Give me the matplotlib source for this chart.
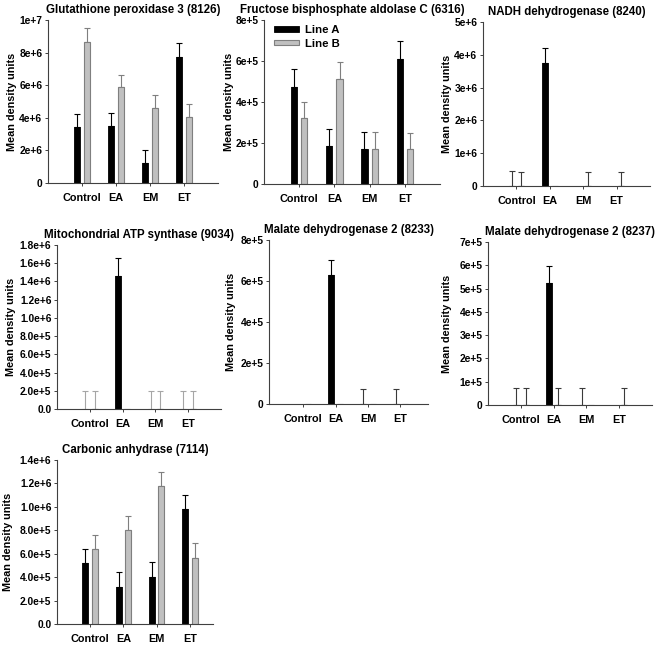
import numpy as np
import matplotlib
matplotlib.use("Agg")
import matplotlib.pyplot as plt
from matplotlib.patches import Patch

plt.rcParams['font.family'] = ['Liberation Sans', 'DejaVu Sans']
plt.rcParams['font.weight'] = 'bold'

nan = np.nan
groups = ['Control', 'EA', 'EM', 'ET']

# Glutathione peroxidase 3 (8126)
gpx_a = [3.41e6, 3.47e6, 1.22e6, 7.76e6]
gpx_a_err = [0.81e6, 0.82e6, 0.80e6, 0.81e6]
gpx_b = [8.63e6, 5.86e6, 4.59e6, 4.04e6]
gpx_b_err = [0.86e6, 0.79e6, 0.78e6, 0.80e6]

# Fructose bisphosphate aldolase C (6316)
fba_a = [4.75e5, 1.87e5, 1.71e5, 6.11e5]
fba_a_err = [0.84e5, 0.83e5, 0.81e5, 0.85e5]
fba_b = [3.20e5, 5.10e5, 1.71e5, 1.69e5]
fba_b_err = [0.82e5, 0.83e5, 0.81e5, 0.81e5]

# NADH dehydrogenase (8240)
nadh_a = [0, 3.74e6, 0, 0]
nadh_a_err = [0.46e6, 0.48e6, nan, nan]
nadh_b = [0, 0, 0, 0]
nadh_b_err = [0.43e6, nan, 0.43e6, 0.43e6]

# Mitochondrial ATP synthase (9034)
atp_a = [0, 1.46e6, 0, 0]
atp_a_err = [0.2e6, 0.195e6, 0.2e6, 0.2e6]
atp_b = [0, 0, 0, 0]
atp_b_err = [0.2e6, nan, 0.2e6, 0.2e6]

# Malate dehydrogenase 2 (8233)
mdh1_a = [0, 6.30e5, 0, 0]
mdh1_a_err = [nan, 0.71e5, 0.75e5, 0.75e5]
mdh1_b = [0, 0, 0, 0]
mdh1_b_err = [nan, nan, nan, nan]

# Malate dehydrogenase 2 (8237)
mdh2_a = [0, 5.26e5, 0, 0]
mdh2_a_err = [0.71e5, 0.71e5, 0.71e5, nan]
mdh2_b = [0, 0, 0, 0]
mdh2_b_err = [0.71e5, 0.71e5, nan, 0.71e5]

# Carbonic anhydrase (7114)
ca_a = [5.19e5, 3.19e5, 4.05e5, 9.83e5]
ca_a_err = [1.19e5, 1.23e5, 1.22e5, 1.17e5]
ca_b = [6.38e5, 8.00e5, 1.18e6, 5.67e5]
ca_b_err = [1.22e5, 1.20e5, 1.20e5, 1.22e5]

# y tick values / labels
ticks_1e7 = [0, 2e6, 4e6, 6e6, 8e6, 1e7]
labels_1e7 = ['0', '2e+6', '4e+6', '6e+6', '8e+6', '1e+7']
ticks_8e5 = [0, 2e5, 4e5, 6e5, 8e5]
labels_8e5 = ['0', '2e+5', '4e+5', '6e+5', '8e+5']
ticks_5e6 = [0, 1e6, 2e6, 3e6, 4e6, 5e6]
labels_5e6 = ['0', '1e+6', '2e+6', '3e+6', '4e+6', '5e+6']
ticks_18e5 = [0, 2e5, 4e5, 6e5, 8e5, 1e6, 1.2e6, 1.4e6, 1.6e6, 1.8e6]
labels_18e5 = ['0.0', '2.0e+5', '4.0e+5', '6.0e+5', '8.0e+5', '1.0e+6',
               '1.2e+6', '1.4e+6', '1.6e+6', '1.8e+6']
ticks_7e5 = [0, 1e5, 2e5, 3e5, 4e5, 5e5, 6e5, 7e5]
labels_7e5 = ['0', '1e+5', '2e+5', '3e+5', '4e+5', '5e+5', '6e+5', '7e+5']
ticks_14e5 = [0, 2e5, 4e5, 6e5, 8e5, 1e6, 1.2e6, 1.4e6]
labels_14e5 = ['0.0', '2.0e+5', '4.0e+5', '6.0e+5', '8.0e+5', '1.0e+6',
               '1.2e+6', '1.4e+6']

W, H = 661, 646
fig = plt.figure(figsize=(W / 100, H / 100), dpi=100)

BLACK = '#000000'
GREY = '#c0c0c0'
GREY_EDGE = '#7f7f7f'


def panel(box, title, a, a_err, b, b_err, ticks, labels, ylab_x,
          xmax=5.0, xmin=0.0, zero_err_color='#3a3a3a'):
    left, top, right, bottom = box
    ax = fig.add_axes([left / W, 1 - bottom / H, (right - left) / W, (bottom - top) / H])
    x = np.arange(1, 5)
    off = 0.145
    width = 0.18
    a = np.array(a, dtype=float)
    b = np.array(b, dtype=float)
    ax.bar(x - off, a, width, color=BLACK, edgecolor=BLACK, linewidth=0.6, zorder=2)
    ax.bar(x + off, b, width, color=GREY, edgecolor=GREY_EDGE, linewidth=0.8, zorder=2)
    for xs, vals, errs, col in [(x - off, a, a_err, BLACK), (x + off, b, b_err, GREY_EDGE)]:
        for xi, v, e in zip(xs, vals, errs):
            if np.isnan(e):
                continue
            c = col if v > 0 else zero_err_color
            ax.errorbar([xi], [v], yerr=[[0], [e]], fmt='none', ecolor=c,
                        elinewidth=0.8, capsize=2.2, capthick=0.8, zorder=1)
    ax.set_xlim(xmin, xmax)
    ax.set_ylim(ticks[0], ticks[-1])
    ax.set_yticks(ticks)
    ax.set_yticklabels(labels)
    ax.set_xticks(x)
    ax.set_xticklabels(groups)
    ax.spines['top'].set_visible(False)
    ax.spines['right'].set_visible(False)
    for s in ['left', 'bottom']:
        ax.spines[s].set_linewidth(0.8)
        ax.spines[s].set_color('#404040')
    ax.tick_params(axis='y', direction='out', length=2.5, width=0.7, pad=1.5,
                   labelsize=7.4, colors='#404040', labelcolor='black')
    ax.tick_params(axis='x', direction='out', length=2.5, width=0.7, pad=5,
                   labelsize=7.8, colors='#404040', labelcolor='black')
    ax.set_title(title, fontsize=8.3, fontweight='bold', pad=5)
    ax.set_ylabel('Mean density units', fontsize=7.8, fontweight='bold')
    # label anchor is the right edge of the rotated text, so shift by half its height
    ax.yaxis.set_label_coords((ylab_x + 5 - left) / (right - left), 0.5)
    return ax


panel((48, 20, 218, 183), 'Glutathione peroxidase 3 (8126)',
      gpx_a, gpx_a_err, gpx_b, gpx_b_err, ticks_1e7, labels_1e7, 12)
ax2 = panel((264, 20, 440, 184), 'Fructose bisphosphate aldolase C (6316)',
            fba_a, fba_a_err, fba_b, fba_b_err, ticks_8e5, labels_8e5, 229)
panel((483, 22, 650, 186), 'NADH dehydrogenase (8240)',
      nadh_a, nadh_a_err, nadh_b, nadh_b_err, ticks_5e6, labels_5e6, 447)
panel((57, 245, 221, 409), 'Mitochondrial ATP synthase (9034)',
      atp_a, atp_a_err, atp_b, atp_b_err, ticks_18e5, labels_18e5, 11,
      zero_err_color='#a6a6a6')
panel((269, 240, 428, 404), 'Malate dehydrogenase 2 (8233)',
      mdh1_a, mdh1_a_err, mdh1_b, mdh1_b_err, ticks_8e5, labels_8e5, 231,
      xmin=-0.05, xmax=4.85)
panel((488, 242, 652, 405), 'Malate dehydrogenase 2 (8237)',
      mdh2_a, mdh2_a_err, mdh2_b, mdh2_b_err, ticks_7e5, labels_7e5, 447)
panel((57, 460, 213, 624), 'Carbonic anhydrase (7114)',
      ca_a, ca_a_err, ca_b, ca_b_err, ticks_14e5, labels_14e5, 8,
      xmax=4.7)

handles = [Patch(facecolor=BLACK, edgecolor=BLACK, linewidth=0.6, label='Line A'),
           Patch(facecolor=GREY, edgecolor=GREY_EDGE, linewidth=0.8, label='Line B')]
ax2.legend(handles=handles, loc='upper left', bbox_to_anchor=(0.02, 1.01),
           frameon=False, fontsize=8.2, handlelength=2.2, handleheight=0.4,
           handletextpad=0.5, labelspacing=0.3, borderaxespad=0.2)

fig.savefig('out.png', dpi=100)
